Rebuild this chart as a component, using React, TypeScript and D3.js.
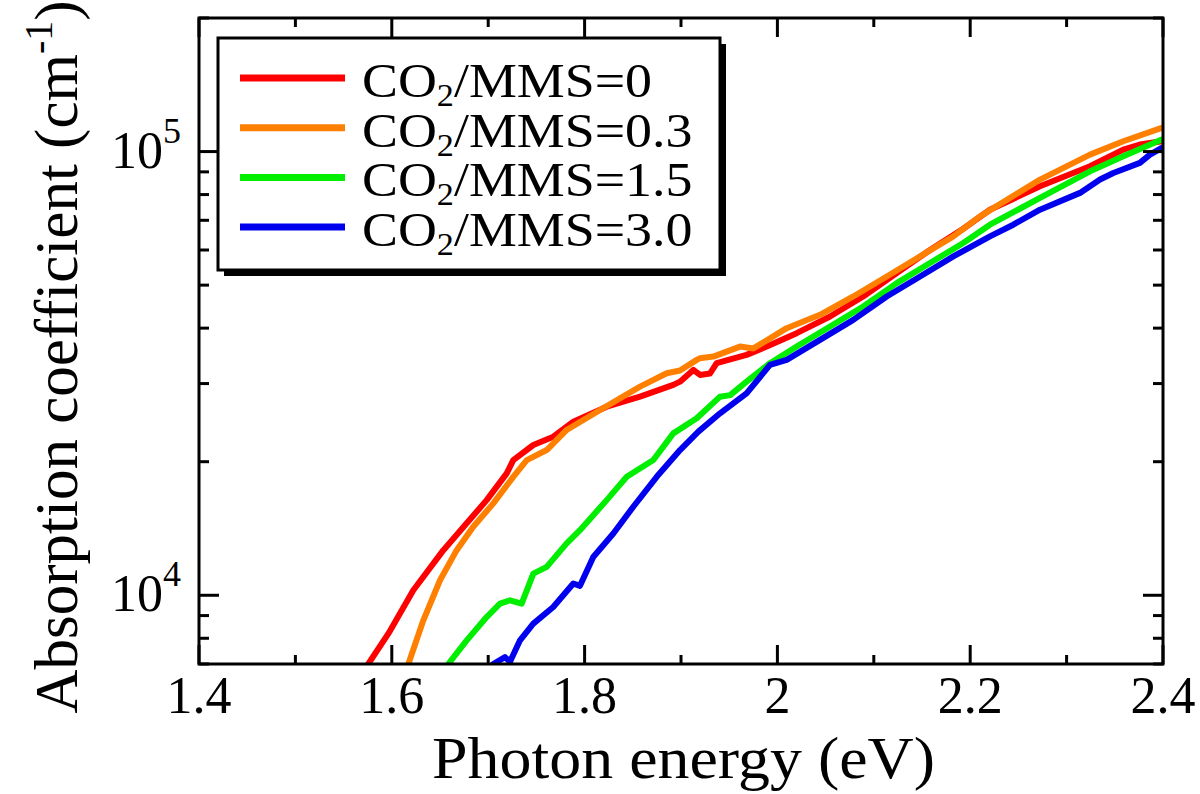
import * as d3 from 'd3';

// photon energy (eV), absorption coefficient (cm^-1)
const seriesR0: [number, number][] = [
  [1.5756, 7000], [1.5964, 8195], [1.6223, 10262], [1.6535, 12637], [1.6984, 16385],
  [1.7192, 18820], [1.726, 20170], [1.7468, 21810], [1.7675, 22770], [1.7883, 24610],
  [1.8229, 26610], [1.8575, 28030], [1.892, 29790], [1.899, 30300], [1.9128, 32200],
  [1.9197, 31380], [1.93, 31600], [1.937, 33340], [1.968, 34820], [1.989, 36350],
  [2.02, 38970], [2.0546, 42490], [2.089, 47140], [2.1238, 53240], [2.1583, 60000],
  [2.1928, 67000], [2.2205, 73960], [2.2724, 83500], [2.3243, 92640], [2.3588, 101000],
  [2.376, 103700], [2.3987, 105500],
];
const seriesR03: [number, number][] = [
  [1.6172, 7000], [1.6327, 8781], [1.65, 10810], [1.6673, 12637], [1.6845, 14270],
  [1.7053, 16110], [1.726, 18490], [1.74, 20170], [1.7607, 21250], [1.7814, 23580],
  [1.816, 26160], [1.8575, 29520], [1.8852, 31650], [1.899, 32100], [1.9163, 33930],
  [1.9197, 34220], [1.9335, 34510], [1.9612, 36350], [1.975, 36000], [2.0096, 39990],
  [2.0442, 42860], [2.0787, 47140], [2.1134, 52300], [2.148, 58030], [2.1825, 64400],
  [2.2102, 71450], [2.2724, 86470], [2.3243, 98440], [2.3588, 105500], [2.3987, 113100],
];
const seriesR15: [number, number][] = [
  [1.6586, 7000], [1.6777, 7914], [1.6984, 8932], [1.7122, 9577], [1.7226, 9743],
  [1.7347, 9577], [1.7468, 11190], [1.7607, 11590], [1.7814, 13090], [1.7952, 14020],
  [1.8229, 16385], [1.8437, 18490], [1.8713, 20170], [1.892, 23170], [1.9163, 25050],
  [1.9405, 28030], [1.951, 28250], [1.968, 30300], [1.9923, 33340], [2.02, 36350],
  [2.0546, 40350], [2.089, 44750], [2.1238, 50530], [2.1583, 56090], [2.1928, 62220],
  [2.2205, 68420], [2.2724, 78630], [2.3243, 90250], [2.3588, 97600], [2.3987, 106400],
];
const seriesR30: [number, number][] = [
  [1.7053, 7000], [1.7174, 7256], [1.7226, 7080], [1.733, 7914], [1.7468, 8632],
  [1.7675, 9412], [1.7883, 10630], [1.7952, 10500], [1.809, 12200], [1.8298, 13780],
  [1.8505, 15830], [1.8748, 18490], [1.899, 21250], [1.918, 23380], [1.9405, 25710],
  [1.968, 28520], [1.9923, 33050], [2.0096, 33930], [2.0442, 37640], [2.0787, 41760],
  [2.1134, 47140], [2.148, 52300], [2.1825, 58030], [2.2205, 64400], [2.2447, 68420],
  [2.2724, 73960], [2.3139, 80700], [2.3347, 86500], [2.3485, 89500], [2.376, 94300],
  [2.3865, 98440], [2.3987, 101900],
];

const ratioLabels = ['0', '0.3', '1.5', '3.0'];
const seriesColors = ['#ff0000', '#ff8000', '#00ee00', '#0000ee'];
const allSeries = [seriesR0, seriesR03, seriesR15, seriesR30];

const xMajorTicks = [1.4, 1.6, 1.8, 2.0, 2.2, 2.4];
const xTickLabels = ['1.4', '1.6', '1.8', '2', '2.2', '2.4'];
const xMinorTicks = [1.5, 1.7, 1.9, 2.1, 2.3];
const yMajorTicks = [1e4, 1e5];
const yTickExponents = ['4', '5'];
const yMinorTicks = [7000, 8000, 9000, 20000, 30000, 40000, 50000, 60000, 70000, 80000, 90000, 200000];

const W = 1200;
const H = 794;
const left = 199;
const right = 1163;
const top = 18;
const bottom = 664;
const font = "'Liberation Serif', 'Times New Roman', Times, serif";

export default function App() {
  const x = d3.scaleLinear().domain([1.4, 2.4]).range([left, right]);
  const y = d3.scaleLog().domain([7000, 200000]).range([bottom, top]);
  const line = d3.line<[number, number]>()
    .x(d => x(d[0]))
    .y(d => y(d[1]));

  return (
    <div style={{ position: 'absolute', left: 0, top: 0 }}>
      <svg width={W} height={H} style={{ display: 'block', background: '#fff', fontFamily: font }}>
        <defs>
          <clipPath id="plotClip">
            <rect x={left} y={top} width={right - left} height={bottom - top} />
          </clipPath>
        </defs>

        {/* data */}
        <g clipPath="url(#plotClip)">
          {allSeries.map((s, i) => (
            <path key={i} d={line(s) || ''} fill="none" stroke={seriesColors[i]}
              strokeWidth={6} strokeLinejoin="round" strokeLinecap="round" />
          ))}
        </g>

        {/* ticks, inward on all four sides */}
        <g stroke="#000" strokeWidth={3}>
          {xMajorTicks.map(t => (
            <g key={'xM' + t}>
              <line x1={x(t)} x2={x(t)} y1={bottom} y2={bottom - 19} />
              <line x1={x(t)} x2={x(t)} y1={top} y2={top + 19} />
            </g>
          ))}
          {xMinorTicks.map(t => (
            <g key={'xm' + t}>
              <line x1={x(t)} x2={x(t)} y1={bottom} y2={bottom - 9} />
              <line x1={x(t)} x2={x(t)} y1={top} y2={top + 9} />
            </g>
          ))}
          {yMajorTicks.map(t => (
            <g key={'yM' + t}>
              <line x1={left} x2={left + 20} y1={y(t)} y2={y(t)} />
              <line x1={right} x2={right - 20} y1={y(t)} y2={y(t)} />
            </g>
          ))}
          {yMinorTicks.map(t => (
            <g key={'ym' + t}>
              <line x1={left} x2={left + 10} y1={y(t)} y2={y(t)} />
              <line x1={right} x2={right - 10} y1={y(t)} y2={y(t)} />
            </g>
          ))}
        </g>

        <rect x={left} y={top} width={right - left} height={bottom - top}
          fill="none" stroke="#000" strokeWidth={3} />

        {/* tick labels */}
        <g fill="#000">
          {xMajorTicks.map((t, i) => (
            <text key={'xl' + t} x={x(t)} y={713} fontSize={52} textAnchor="middle">{xTickLabels[i]}</text>
          ))}
          {yMajorTicks.map((t, i) => (
            <g key={'yl' + t}>
              <text x={163} y={y(t) + 16} fontSize={52} textAnchor="end">10</text>
              <text x={163} y={y(t) - 9} fontSize={36} textAnchor="start">{yTickExponents[i]}</text>
            </g>
          ))}
        </g>

        {/* axis titles */}
        <text x={432} y={778} fontSize={59} textLength={503}
          lengthAdjust="spacingAndGlyphs">Photon energy (eV)</text>
        <text transform="translate(77,357) rotate(-90)" fontSize={61} textAnchor="middle">
          Absorption coefficient (cm<tspan fontSize={40} dy={-25}>-1</tspan><tspan dy={25}>)</tspan>
        </text>

        {/* legend */}
        <rect x={224} y={44} width={502} height={232} fill="#000" />
        <rect x={218} y={38} width={502} height={232} fill="#fff" stroke="#000" strokeWidth={3} />
        {ratioLabels.map((lab, i) => {
          const ly = 78 + i * 49.7;
          return (
            <g key={'lg' + i}>
              <line x1={240} x2={345} y1={ly} y2={ly} stroke={seriesColors[i]} strokeWidth={7} />
              <text transform={`translate(362,${ly + 19}) scale(1.1,1)`} fontSize={49}>
                CO<tspan fontSize={31} dy={9}>2</tspan><tspan dy={-9}>/MMS={lab}</tspan>
              </text>
            </g>
          );
        })}
      </svg>
    </div>
  );
}
